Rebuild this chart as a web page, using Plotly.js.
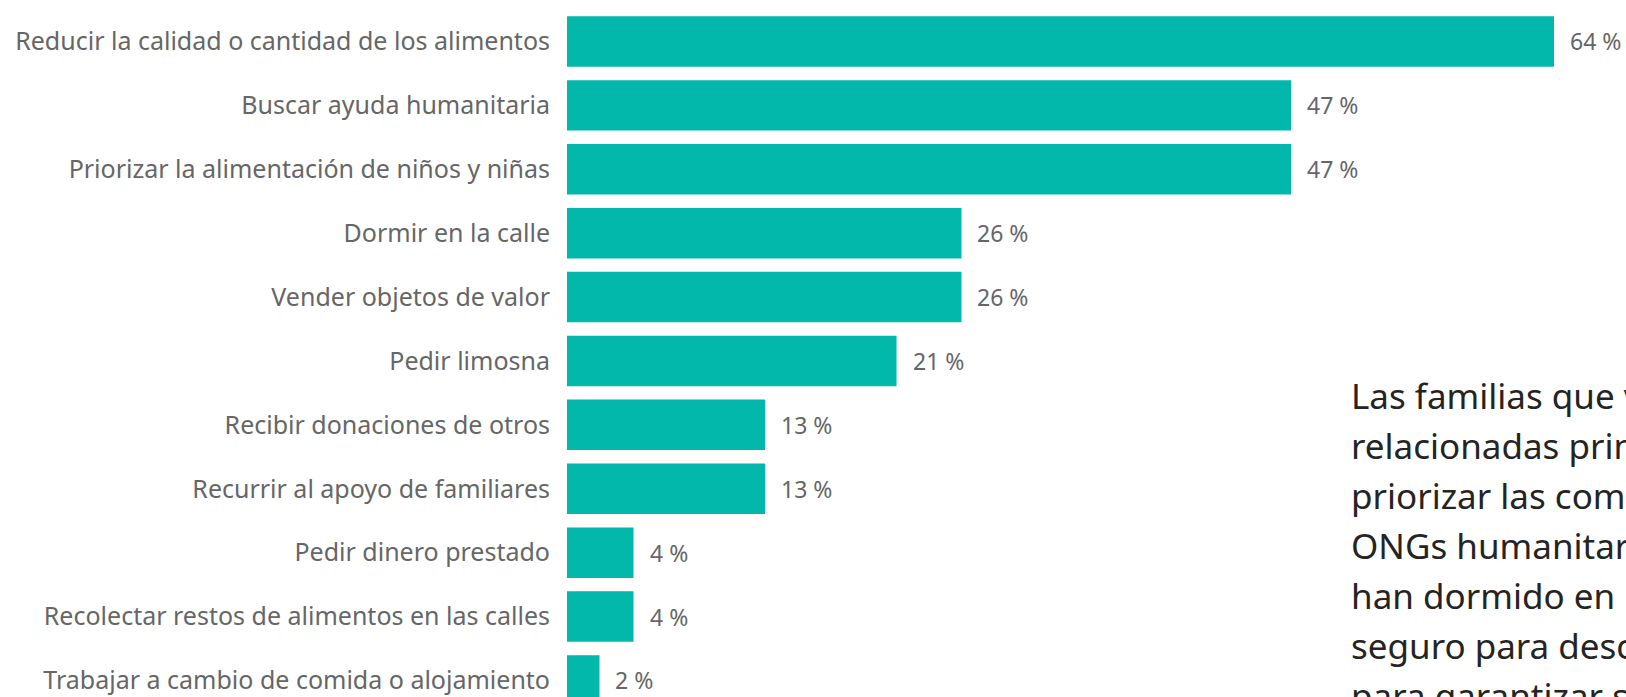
<!DOCTYPE html>
<html>
<head>
<meta charset="utf-8">
<script src="https://cdn.plot.ly/plotly-3.0.1.min.js"></script>
<style>
html,body{margin:0;padding:0;overflow:hidden;background:#fff;}
#chart{width:1626px;height:697px;}
</style>
</head>
<body>
<div id="chart"></div>
<script>
// Categories (top to bottom) and shares of households (%)
const categories = [
  "Reducir la calidad o cantidad de los alimentos",
  "Buscar ayuda humanitaria",
  "Priorizar la alimentación de niños y niñas",
  "Dormir en la calle",
  "Vender objetos de valor",
  "Pedir limosna",
  "Recibir donaciones de otros",
  "Recurrir al apoyo de familiares",
  "Pedir dinero prestado",
  "Recolectar restos de alimentos en las calles",
  "Trabajar a cambio de comida o alojamiento"
];
const values = [63.8, 46.8, 46.8, 25.5, 25.5, 21.3, 12.8, 12.8, 4.3, 4.3, 2.1];
const valueLabels = values.map(v => Math.round(v) + " %");

// Side text (visible part of the paragraph)
const sideLines = [
  "Las familias que v",
  "relacionadas prin",
  "priorizar las comi",
  "ONGs humanitar",
  "han dormido en l",
  "seguro para desc",
  "para garantizar s"
];

const W = 1626, H = 697;
const FONT = "Segoe UI, Noto Sans, Open Sans, sans-serif";

const trace = {
  type: "bar",
  orientation: "h",
  y: categories,
  x: values,
  marker: {color: "#01B8AA"},
  hoverinfo: "skip"
};

const annotations = [];
values.forEach((v, i) => {
  annotations.push({
    x: v, y: categories[i], xref: "x", yref: "y",
    text: valueLabels[i], showarrow: false,
    xanchor: "left", yanchor: "middle", xshift: 14,
    font: {family: FONT, size: 23, color: "#666666"}
  });
});
const marginL = 567;
const plotW = W - marginL;
sideLines.forEach((t, k) => {
  const py = 395 + k * 50;
  annotations.push({
    x: (1349 - marginL) / plotW, y: 1 - py / H,
    xref: "paper", yref: "paper",
    text: t, showarrow: false,
    xanchor: "left", yanchor: "middle",
    font: {family: FONT, size: 35, color: "#252423"}
  });
});

const layout = {
  width: W, height: H,
  margin: {l: marginL, r: 0, t: 0, b: 0, pad: 0},
  paper_bgcolor: "#ffffff",
  plot_bgcolor: "#ffffff",
  showlegend: false,
  bargap: 0.21,
  xaxis: {
    range: [0, plotW / 15.47],
    visible: false, showgrid: false, zeroline: false, fixedrange: true
  },
  yaxis: {
    type: "category",
    categoryorder: "array", categoryarray: categories,
    range: [10.259, -0.649],
    showgrid: false, zeroline: false, showline: false,
    ticks: "", ticklabelstandoff: 16,
    tickfont: {family: FONT, size: 25, color: "#666666"},
    fixedrange: true
  },
  annotations: annotations
};

Plotly.newPlot("chart", [trace], layout, {displayModeBar: false, staticPlot: true});
</script>
</body>
</html>
